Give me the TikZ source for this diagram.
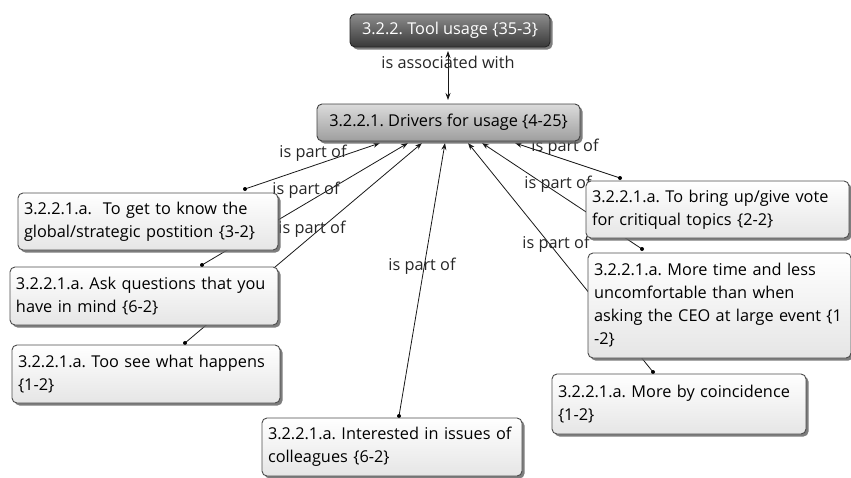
\documentclass[tikz,border=0pt]{standalone}
\usepackage{fontspec}
\setmainfont{Open Sans}
\usetikzlibrary{shadows,arrows.meta}
\begin{document}
\frenchspacing
\begin{tikzpicture}[x=1pt,y=-1pt,
  basebox/.style={draw=black!70, line width=0.9pt, rounded corners=5pt,
    drop shadow={shadow xshift=2.5pt, shadow yshift=-2.5pt, fill=black!60, opacity=0.85},
    inner xsep=6pt, inner ysep=0pt, font=\fontsize{16.3}{23}\selectfont\frenchspacing, anchor=center},
  childbox/.style={basebox, top color=white, bottom color=black!10, align=left},
  link/.style={line width=0.8pt, black!90, -{Stealth[length=7pt,width=5pt]}},
  lbl/.style={font=\fontsize{16.3}{18}\selectfont, text=black!85, inner sep=0pt},
  enddot/.style={circle, fill=black, inner sep=0pt, minimum size=4pt}
]
\useasboundingbox (0,0) rectangle (851,477);
% connector end points
\coordinate (dA) at (245,189); \coordinate (tA) at (380,143);
\coordinate (dB) at (202,265); \coordinate (tB) at (408,143);
\coordinate (dC) at (185,343); \coordinate (tC) at (422,143);
\coordinate (dD) at (399,416); \coordinate (tD) at (445,143);
\coordinate (dG) at (653,372); \coordinate (tG) at (468,143);
\coordinate (dF) at (642,249); \coordinate (tF) at (482,143);
\coordinate (dE) at (620,178); \coordinate (tE) at (515,143);
\coordinate (tu) at (448,51); \coordinate (du) at (448,100);
% connectors
\draw[line width=0.8pt, black!90, {Stealth[length=7pt,width=5pt]}-{Stealth[length=7pt,width=5pt]}] (tu) -- (du);
\foreach \k in {A,B,C,D,E,F,G}{
  \draw[link] (d\k) -- (t\k);
  \node[enddot] (dot\k) at (d\k) {};
}
% labels
\node[lbl] (lu) at (448,62) {is associated with};
\node[lbl] (lA) at (313,153) {is part of};
\node[lbl] (lB) at (306,190) {is part of};
\node[lbl] (lC) at (312,229) {is part of};
\node[lbl] (lD) at (422,266) {is part of};
\node[lbl] (lE) at (565,147) {is part of};
\node[lbl] (lF) at (558,184) {is part of};
\node[lbl] (lG) at (556,244) {is part of};
% nodes
\node[basebox, top color=black!45, bottom color=black!78, draw=black!85, text=white,
  minimum width=200pt, minimum height=33pt] (tool) at (450,30.5) {3.2.2. Tool usage \{35-3\}};
\node[basebox, top color=black!14, bottom color=black!38, draw=black!75,
  minimum width=263pt, minimum height=37pt] (drv) at (448.5,122.5) {3.2.2.1. Drivers for usage \{4-25\}};
\node[childbox, text width=248pt, minimum height=57pt] (nA) at (148,221.5)
  {3.2.2.1.a.\ \ To get to know the\\global/strategic postition \{3-2\}};
\node[childbox, text width=256pt, minimum height=58pt] (nB) at (144,296)
  {3.2.2.1.a. Ask questions that you\\have in mind \{6-2\}};
\node[childbox, text width=256pt, minimum height=58pt] (nC) at (146,374)
  {3.2.2.1.a. Too see what happens\\\{1-2\}};
\node[childbox, text width=248pt, minimum height=58pt] (nD) at (392,447)
  {3.2.2.1.a. Interested in issues of\\colleagues \{6-2\}};
\node[childbox, text width=251pt, minimum height=57pt] (nE) at (717.5,209.5)
  {3.2.2.1.a. To bring up/give vote\\for critiqual topics \{2-2\}};
\node[childbox, text width=251pt, minimum height=105pt] (nF) at (719.5,305.5)
  {3.2.2.1.a. More time and less\\uncomfortable than when\\asking the CEO at large event \{1\\-2\}};
\node[childbox, text width=242pt, minimum height=60pt] (nG) at (679,404)
  {3.2.2.1.a. More by coincidence\\\{1-2\}};
\end{tikzpicture}
\end{document}
